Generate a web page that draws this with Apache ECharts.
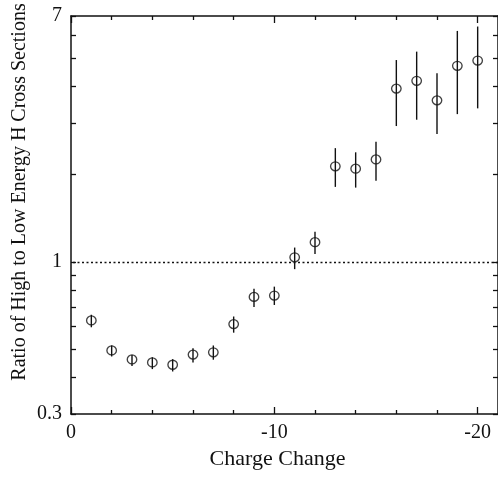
<!DOCTYPE html>
<html>
<head>
<meta charset="utf-8">
<script src="https://cdn.jsdelivr.net/npm/echarts@6/dist/echarts.min.js"></script>
<style>
  html, body { margin: 0; padding: 0; background: #fff; }
  #chart { width: 498px; height: 478px; }
</style>
</head>
<body>
<div id="chart"></div>
<script>
// Charge change of the projectile and the high/low energy cross-section ratio
const charge = [-1, -2, -3, -4, -5, -6, -7, -8, -9, -10, -11, -12, -13, -14, -15, -16, -17, -18, -19, -20];
const ratio  = [0.629, 0.496, 0.462, 0.451, 0.443, 0.480, 0.489, 0.611, 0.758, 0.766, 1.037, 1.169, 2.13, 2.09, 2.25, 3.94, 4.19, 3.59, 4.72, 4.92];
const errLow = [0.596, 0.473, 0.439, 0.428, 0.420, 0.451, 0.461, 0.571, 0.699, 0.711, 0.944, 1.065, 1.81, 1.80, 1.90, 2.93, 3.08, 2.75, 3.22, 3.37];
const errHigh = [0.658, 0.516, 0.479, 0.470, 0.463, 0.505, 0.516, 0.649, 0.808, 0.822, 1.12, 1.27, 2.46, 2.38, 2.59, 4.94, 5.28, 4.45, 6.22, 6.44];

// Axis ticks and labels
const xMajor = [0, -10, -20];
const xMinor = [-2, -4, -6, -8, -12, -14, -16, -18];
const yTicks = [0.3, 0.4, 0.5, 0.6, 0.7, 0.8, 0.9, 1, 2, 3, 4, 5, 6, 7];
const yLabels = [0.3, 1, 7];
const referenceLevel = 1;

const FONT = 'Liberation Serif';
const INK = '#111';

function xAxisDef(pos, ticks, len, showLine, showLabels) {
  return {
    type: 'value', position: pos, min: -21, max: 0, inverse: true,
    axisLine: { show: showLine, onZero: false, lineStyle: { color: INK, width: 1.5 } },
    axisTick: { inside: true, length: len, customValues: ticks, lineStyle: { color: INK, width: 1.3 } },
    axisLabel: showLabels
      ? { customValues: xMajor, color: INK, fontFamily: FONT, fontSize: 20, margin: 9 }
      : { show: false },
    splitLine: { show: false }
  };
}

function yAxisDef(pos, showLabels) {
  return {
    type: 'log', logBase: 10, position: pos, min: 0.3, max: 7,
    axisLine: { show: true, onZero: false, lineStyle: { color: INK, width: 1.5 } },
    axisTick: { inside: true, length: 5, customValues: yTicks, lineStyle: { color: INK, width: 1.3 } },
    axisLabel: showLabels
      ? { customValues: yLabels, color: INK, fontFamily: FONT, fontSize: 20, margin: 9 }
      : { show: false },
    splitLine: { show: false }
  };
}

const chart = echarts.init(document.getElementById('chart'), null, { renderer: 'canvas' });

chart.setOption({
  animation: false,
  backgroundColor: '#fff',
  grid: { left: 71, top: 16, width: 428.5, height: 398, containLabel: false },
  xAxis: [
    Object.assign(xAxisDef('bottom', xMajor, 7, true, true), {
      name: 'Charge Change', nameLocation: 'middle', nameGap: 32,
      nameTextStyle: { color: INK, fontFamily: FONT, fontSize: 22, padding: [0, 14, 0, 0] }
    }),
    xAxisDef('bottom', xMinor, 4, false, false),
    xAxisDef('top', xMajor, 7, true, false),
    xAxisDef('top', xMinor, 4, false, false)
  ],
  yAxis: [yAxisDef('left', true), yAxisDef('right', false)],
  graphic: [{
    type: 'text', x: 20, y: 192, rotation: Math.PI / 2,
    style: {
      text: 'Ratio of High to Low Energy H Cross Sections',
      font: '20px "' + FONT + '"', fill: INK,
      align: 'center', verticalAlign: 'middle'
    }
  }],
  series: [
    {
      type: 'custom',
      name: 'error',
      xAxisIndex: 0, yAxisIndex: 0,
      data: charge.map((c, i) => [c, errLow[i], errHigh[i]]),
      renderItem: function (params, api) {
        const lo = api.coord([api.value(0), api.value(1)]);
        const hi = api.coord([api.value(0), api.value(2)]);
        return {
          type: 'line',
          shape: { x1: lo[0], y1: lo[1], x2: hi[0], y2: hi[1] },
          style: { stroke: INK, lineWidth: 1.4 }
        };
      },
      z: 3
    },
    {
      type: 'scatter',
      name: 'ratio',
      xAxisIndex: 0, yAxisIndex: 0,
      data: charge.map((c, i) => [c, ratio[i]]),
      symbol: 'circle',
      symbolSize: [9.5, 9],
      itemStyle: { color: 'transparent', borderColor: INK, borderWidth: 1.3 },
      z: 4,
      markLine: {
        silent: true,
        symbol: 'none',
        label: { show: false },
        lineStyle: { color: INK, type: [2, 2.5], width: 1.3 },
        data: [{ yAxis: referenceLevel }]
      }
    }
  ]
});
</script>
</body>
</html>
